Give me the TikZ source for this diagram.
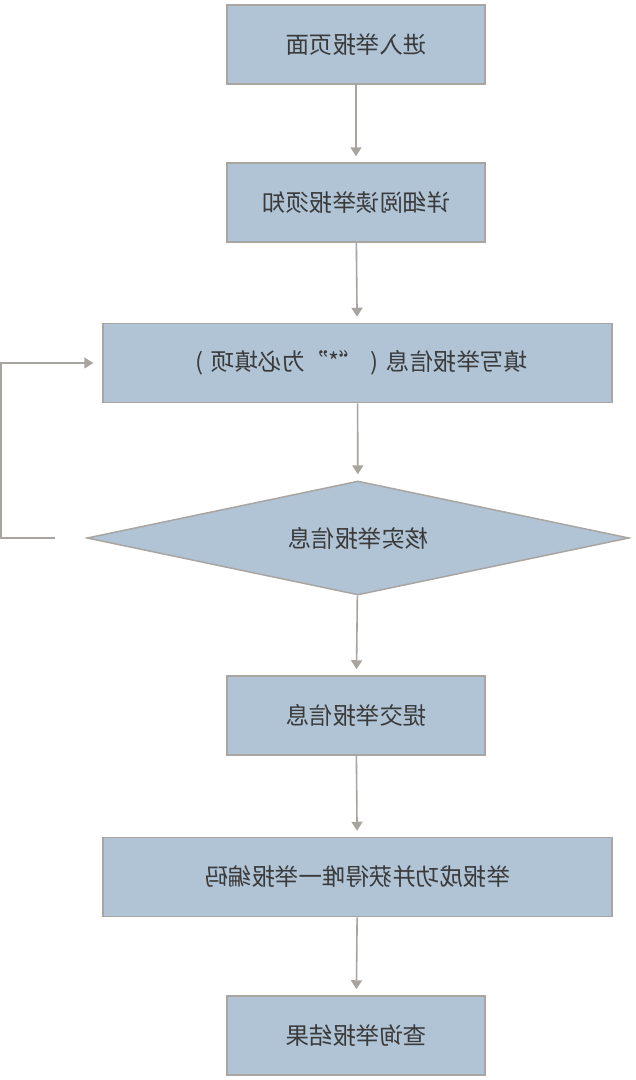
\documentclass[tikz,border=0pt]{standalone}
\usepackage{fontspec}
\usepackage{graphicx}
\newfontfamily\cjk{Noto Sans CJK SC}
\usetikzlibrary{arrows.meta,shapes.geometric}
\definecolor{boxfill}{HTML}{B0C4D6}
\definecolor{boxline}{HTML}{A9A5A0}
\definecolor{arrowc}{HTML}{A8A4A0}
\definecolor{txt}{HTML}{3A3A3A}
\tikzset{
  stepbox/.style={draw=boxline, line width=1.5pt, fill=boxfill, minimum height=79pt, inner sep=0pt, text=txt, font=\cjk\fontsize{23.5}{26}\selectfont},
  narrowbox/.style={stepbox, minimum width=258pt},
  widebox/.style={stepbox, minimum width=509pt},
  decide/.style={diamond, aspect=4.75, draw=boxline, line width=1.5pt, fill=boxfill, minimum width=542pt, minimum height=114pt, inner sep=0pt, text=txt, font=\cjk\fontsize{23.5}{26}\selectfont},
  flow/.style={draw=arrowc, line width=1.6pt, -{Triangle[width=11pt,length=9pt]}, shorten >=6pt}
}
\newcommand{\mir}[1]{\reflectbox{#1}}
\newcommand{\fwq}[1]{\makebox[1em][c]{#1}}
\begin{document}
\begin{tikzpicture}[x=1pt,y=-1pt]
\useasboundingbox (0,0) rectangle (636,1080);
\fill[white] (0,0) rectangle (636,1080);
\node[narrowbox] (b1) at (356,44.5) {\mir{进入举报页面}};
\node[narrowbox] (b2) at (356,202.5) {\mir{详细阅读举报须知}};
\node[widebox]   (b3) at (357.5,363) {\mir{填写举报信息\fwq{(}\fwq{“}*\fwq{”}为必填项\fwq{)}}};
\node[decide]    (d)  at (358,538) {\mir{核实举报信息}};
\node[narrowbox] (b4) at (356,715.5) {\mir{提交举报信息}};
\node[widebox]   (b5) at (357.5,877) {\mir{举报成功并获得唯一举报编码}};
\node[narrowbox] (b6) at (356,1035.5) {\mir{查询举报结果}};
\coordinate (lp) at (55,538);
\coordinate (lc) at (1,538);
\draw[flow] (b1) -- (b2);
\draw[flow] (b2) -- (b3);
\draw[flow] (b3) -- (d);
\draw[flow] (d) -- (b4);
\draw[flow] (b4) -- (b5);
\draw[flow] (b5) -- (b6);
\draw[flow, shorten >=9pt] (lp) -- (lc) |- (b3.west);
\end{tikzpicture}
\end{document}
